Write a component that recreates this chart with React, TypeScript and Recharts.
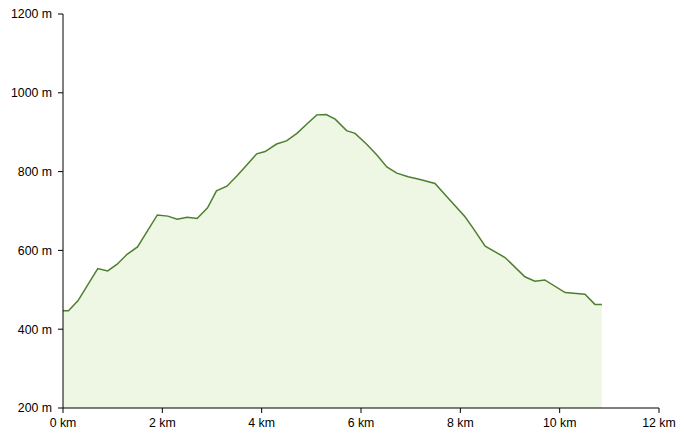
import React from "react";
import { AreaChart, Area, XAxis, YAxis } from "recharts";

const distancesKm = [
  0, 0.11, 0.3, 0.7, 0.9, 1.09, 1.29, 1.5, 1.9, 2.11, 2.3, 2.5, 2.7, 2.91, 3.09, 3.3, 3.5, 3.7,
  3.9, 4.07, 4.3, 4.5, 4.71, 4.91, 5.11, 5.3, 5.48, 5.71, 5.88, 6.11, 6.32, 6.52, 6.72, 6.95,
  7.19, 7.49, 7.73, 8.09, 8.26, 8.5, 8.9, 9.3, 9.5, 9.7, 10.11, 10.51, 10.71, 10.85,
];
const elevationsM = [
  447, 447, 472, 554, 548, 565, 590, 609, 690, 687, 679, 684, 681, 708, 751, 763, 789, 817,
  845, 851, 870, 878, 897, 921, 944, 945, 933, 904, 897, 870, 842, 812, 796, 787,
  780, 770, 736, 686, 656, 611, 582, 533, 522, 525, 493, 489, 463, 463,
];
const xTicks = [0, 2, 4, 6, 8, 10, 12];
const yTicks = [200, 400, 600, 800, 1000, 1200];

const data = distancesKm.map((d, i) => ({ d, e: elevationsM[i] }));

const tickStyle = { fill: "#000", fontSize: 12.3, fontFamily: "Liberation Sans, Arial, sans-serif" };

export default function App() {
  return (
    <div style={{ position: "absolute", left: 0, top: 0, width: 686, height: 439, background: "#fff" }}>
      <AreaChart width={686} height={439} data={data} margin={{ top: 14, right: 27, bottom: 1, left: 0 }}>
        <XAxis
          dataKey="d"
          type="number"
          domain={[0, 12]}
          ticks={xTicks}
          tickFormatter={(v) => `${v} km`}
          stroke="#000"
          tick={tickStyle}
          tickSize={5}
          tickMargin={5}
          height={30}
          interval={0}
        />
        <YAxis
          type="number"
          domain={[200, 1200]}
          ticks={yTicks}
          tickFormatter={(v) => `${v} m`}
          stroke="#000"
          tick={tickStyle}
          tickSize={5}
          tickMargin={6}
          width={63}
          interval={0}
          allowDataOverflow
        />
        <Area
          type="linear"
          dataKey="e"
          stroke="#4e7f30"
          strokeWidth={1.5}
          fill="#eef7e3"
          fillOpacity={1}
          baseValue={200}
          isAnimationActive={false}
          dot={false}
          activeDot={false}
        />
      </AreaChart>
    </div>
  );
}
